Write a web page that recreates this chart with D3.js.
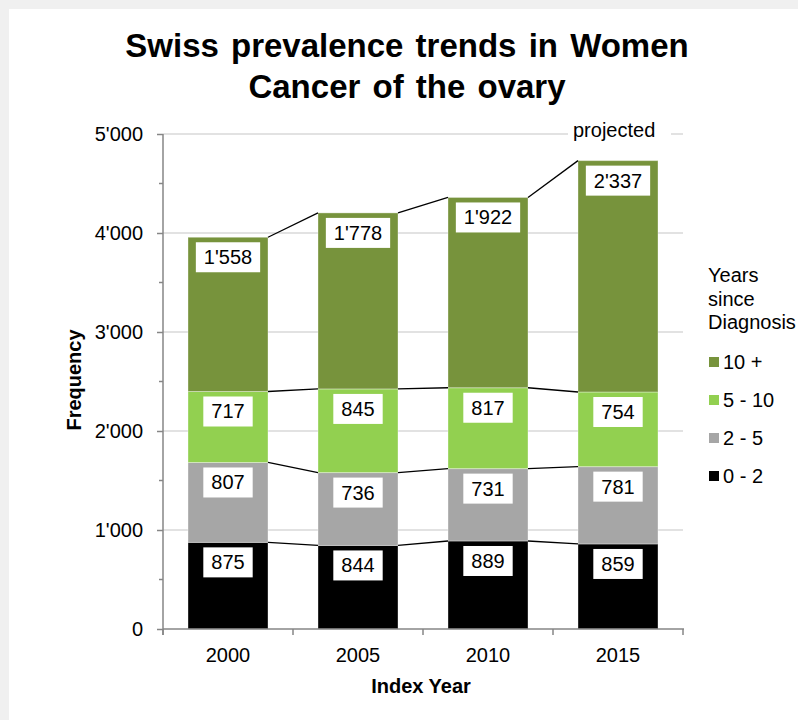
<!DOCTYPE html>
<html>
<head>
<meta charset="utf-8">
<script src="https://cdn.jsdelivr.net/npm/d3@7"></script>
<style>
  html, body { margin: 0; padding: 0; background: #f0f0f0; }
  svg { display: block; font-family: "Liberation Sans", Arial, sans-serif; }
</style>
</head>
<body>
<svg width="798" height="720"></svg>
<script>
const years = ['2000', '2005', '2010', '2015'];
const groups = ['0 - 2', '2 - 5', '5 - 10', '10 +'];
const colors = ['#000000', '#a6a6a6', '#92d050', '#77933c'];
const vals02 = [875, 844, 889, 859];
const vals25 = [807, 736, 731, 781];
const vals510 = [717, 845, 817, 754];
const vals10p = [1558, 1778, 1922, 2337];
const yTicks = [0, 1000, 2000, 3000, 4000, 5000];
const yMinor = [500, 1500, 2500, 3500, 4500];
const legendTitle = ['Years', 'since', 'Diagnosis'];

const series = [vals02, vals25, vals510, vals10p];
const rows = years.map((y, i) => {
    let r = { year: y };
    groups.forEach((g, k) => r[g] = series[k][i]);
    return r;
});
const stacked = d3.stack().keys(groups)(rows);

const loc = d3.formatLocale({ decimal: '.', thousands: "'", grouping: [3], currency: ['', ''] });
const fmt = loc.format(',d');

const svg = d3.select('svg');
svg.append('rect').attr('x', 9).attr('y', 9).attr('width', 789).attr('height', 711).attr('fill', '#fff');

const x = d3.scaleBand().domain(years).range([163, 683]).paddingInner(50 / 130).paddingOuter(25 / 130);
const y = d3.scaleLinear().domain([0, 5000]).range([629, 134]);

// gridlines
svg.append('g').selectAll('line').data(yTicks.slice(1)).enter().append('line')
    .attr('x1', 163).attr('x2', 683)
    .attr('y1', d => y(d)).attr('y2', d => y(d))
    .attr('stroke', '#d9d9d9').attr('stroke-width', 1.5);

// "projected" note over the top gridline
svg.append('rect').attr('x', 568).attr('y', 118).attr('width', 103).attr('height', 26).attr('fill', '#fff');
svg.append('text').attr('x', 573).attr('y', 137).attr('font-size', 20).attr('fill', '#000').text('projected');

// bars
const layer = svg.append('g').selectAll('g').data(stacked).enter().append('g')
    .attr('fill', (d, k) => colors[k]);
layer.selectAll('rect').data(d => d).enter().append('rect')
    .attr('x', d => x(d.data.year))
    .attr('width', x.bandwidth())
    .attr('y', d => y(d[1]))
    .attr('height', d => y(d[0]) - y(d[1]))
    .attr('stroke', 'rgba(255,255,255,0.35)').attr('stroke-width', 1);

// series lines between bars
stacked.forEach(s => {
    for (let i = 0; i < s.length - 1; i++) {
        svg.append('line')
            .attr('x1', x(years[i]) + x.bandwidth()).attr('y1', y(s[i][1]))
            .attr('x2', x(years[i + 1])).attr('y2', y(s[i + 1][1]))
            .attr('stroke', '#000').attr('stroke-width', 1.3);
    }
});

// data labels
stacked.forEach(s => {
    s.forEach(d => {
        let cx = x(d.data.year) + x.bandwidth() / 2;
        let top = y(d[1]) + 5;
        let g = svg.append('g');
        let r = g.append('rect').attr('fill', '#fff');
        let t = g.append('text').attr('x', cx).attr('y', top + 22)
            .attr('text-anchor', 'middle').attr('font-size', 20).attr('fill', '#000')
            .text(fmt(d[1] - d[0]));
        let w = t.node().getComputedTextLength() + 16;
        r.attr('x', cx - w / 2).attr('y', top).attr('width', w).attr('height', 30);
    });
});

// y axis
const yAxis = svg.append('g').attr('transform', 'translate(163,0)')
    .call(d3.axisLeft(y).tickValues(yTicks).tickSize(6).tickPadding(14).tickFormat(fmt));
yAxis.selectAll('text').attr('font-size', 20).attr('fill', '#000').attr('font-family', null);
yAxis.select('.domain').attr('stroke', '#868686').attr('stroke-width', 1.5).attr('d', 'M0,' + y(5000) + 'V635');
yAxis.selectAll('.tick line').attr('stroke', '#868686').attr('stroke-width', 1.5);
svg.append('g').selectAll('line').data(yMinor).enter().append('line')
    .attr('x1', 159).attr('x2', 163).attr('y1', d => y(d)).attr('y2', d => y(d))
    .attr('stroke', '#868686').attr('stroke-width', 1.5);

// x axis
const xAxis = svg.append('g').attr('transform', 'translate(0,629)')
    .call(d3.axisBottom(x).tickSize(0).tickPadding(19));
xAxis.selectAll('text').attr('font-size', 20).attr('fill', '#000').attr('font-family', null);
xAxis.select('.domain').attr('stroke', '#868686').attr('stroke-width', 1.5).attr('d', 'M163,0H684');
const bounds = [0].concat(years.map(d => x(d) + x.bandwidth() + x.step() * x.paddingInner() / 2));
svg.append('g').selectAll('line').data(bounds).enter().append('line')
    .attr('x1', (d, i) => i == 0 ? 163 : d).attr('x2', (d, i) => i == 0 ? 163 : d)
    .attr('y1', 629).attr('y2', 635)
    .attr('stroke', '#868686').attr('stroke-width', 1.5);

// axis titles
svg.append('text').attr('x', 421).attr('y', 693).attr('text-anchor', 'middle')
    .attr('font-size', 20).attr('font-weight', 'bold').text('Index Year');
svg.append('text').attr('transform', 'translate(81,380) rotate(-90)').attr('text-anchor', 'middle')
    .attr('font-size', 20).attr('font-weight', 'bold').text('Frequency');

// title
svg.append('text').attr('x', 407).attr('y', 57).attr('text-anchor', 'middle')
    .attr('font-size', 33).attr('font-weight', 'bold').attr('word-spacing', 3)
    .text('Swiss prevalence trends in Women');
svg.append('text').attr('x', 407).attr('y', 98).attr('text-anchor', 'middle')
    .attr('font-size', 33).attr('font-weight', 'bold').attr('word-spacing', 3)
    .text('Cancer of the ovary');

// legend
svg.append('g').selectAll('text').data(legendTitle).enter().append('text')
    .attr('x', 708).attr('y', (d, i) => 282 + i * 23.5).attr('font-size', 20).text(d => d);
const leg = svg.append('g').selectAll('g').data(groups.slice().reverse()).enter().append('g')
    .attr('transform', (d, i) => 'translate(709,' + (369 + i * 38) + ')');
leg.append('rect').attr('x', 0).attr('y', -12).attr('width', 10).attr('height', 10)
    .attr('fill', d => colors[groups.indexOf(d)]);
leg.append('text').attr('x', 14).attr('y', 0).attr('font-size', 20).text(d => d);
</script>
</body>
</html>
